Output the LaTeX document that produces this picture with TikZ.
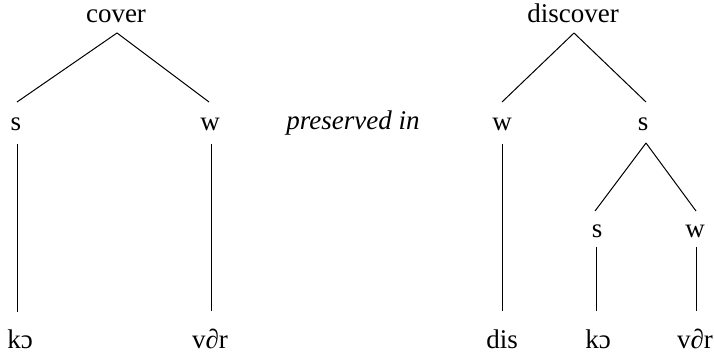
\documentclass[tikz,border=0pt]{standalone}
\usepackage{fontspec}
\setmainfont{Liberation Serif}
\begin{document}
\begin{tikzpicture}[x=1pt,y=-1pt,
  lbl/.style={inner sep=0pt,anchor=base,font=\fontsize{27}{32}\selectfont},
  branch/.style={line width=1pt,black}]
\useasboundingbox (0,0) rectangle (714,356);

% metrical tree for "cover"
\node[lbl] (cover) at (116,22) {cover};
\node[lbl] (s1) at (16,130) {s};
\node[lbl] (w1) at (210,130) {w};
\node[lbl] (k1) at (20,348) {kɔ};
\node[lbl] (v1) at (210,348) {v∂r};

\draw[branch] ([xshift=1pt,yshift=-11pt]cover.base) -- ([xshift=1pt,yshift=28pt]s1.base);
\draw[branch] ([xshift=1pt,yshift=-11pt]cover.base) -- ([xshift=-1pt,yshift=28pt]w1.base);
\draw[branch] ([xshift=1pt,yshift=-14pt]s1.base) -- ([xshift=-3pt,yshift=36pt]k1.base);
\draw[branch] ([xshift=1pt,yshift=-14pt]w1.base) -- ([xshift=1pt,yshift=37pt]v1.base);

% connecting phrase
\node[lbl,font=\fontsize{27}{32}\selectfont\itshape] (pres) at (353,129) {preserved in};

% metrical tree for "discover"
\node[lbl] (disc) at (573,22) {discover};
\node[lbl] (w2) at (502,130) {w};
\node[lbl] (s2) at (643,130) {s};
\node[lbl] (s3) at (597,237) {s};
\node[lbl] (w3) at (695,237) {w};
\node[lbl] (dis) at (502,348) {dis};
\node[lbl] (k2) at (598,348) {kɔ};
\node[lbl] (v2) at (695,348) {v∂r};

\draw[branch] ([xshift=1pt,yshift=-11pt]disc.base) -- ([yshift=28pt]w2.base);
\draw[branch] ([xshift=1pt,yshift=-11pt]disc.base) -- ([xshift=3pt,yshift=28pt]s2.base);
\draw[branch] ([yshift=-14pt]w2.base) -- ([yshift=37pt]dis.base);
\draw[branch] ([xshift=3pt,yshift=-13pt]s2.base) -- ([xshift=-2pt,yshift=26pt]s3.base);
\draw[branch] ([xshift=3pt,yshift=-13pt]s2.base) -- ([xshift=1pt,yshift=26pt]w3.base);
\draw[branch] ([xshift=-1pt,yshift=-10pt]s3.base) -- ([xshift=-2pt,yshift=37pt]k2.base);
\draw[branch] ([xshift=1pt,yshift=-10pt]w3.base) -- ([xshift=1pt,yshift=37pt]v2.base);
\end{tikzpicture}
\end{document}
